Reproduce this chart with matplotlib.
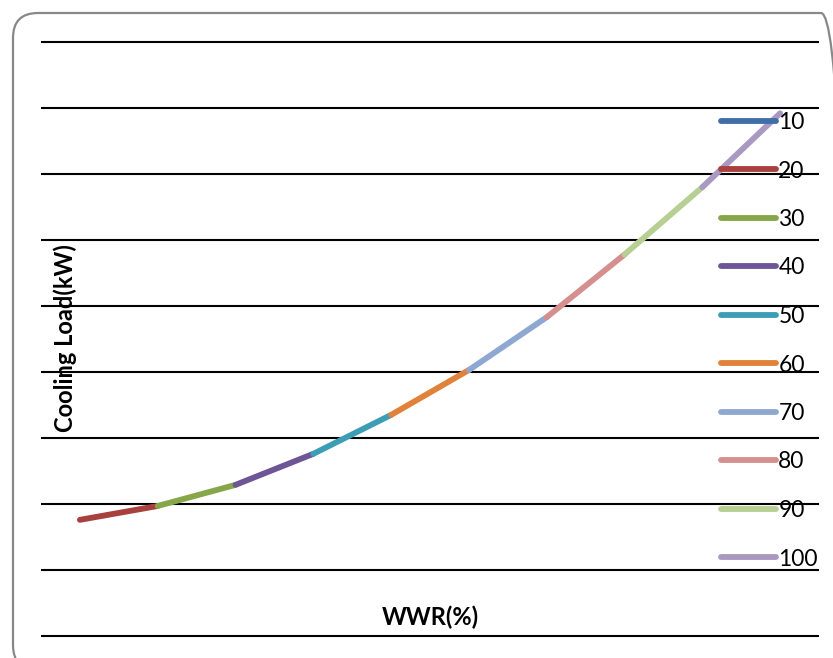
import matplotlib
matplotlib.use('Agg')
import matplotlib.pyplot as plt
from matplotlib.patches import FancyBboxPatch

# WWR steps and the cooling load read at each step
wwr_labels = ['10', '20', '30', '40', '50', '60', '70', '80', '90', '100']
cooling_load = [17.6, 19.7, 22.9, 27.6, 33.5, 40.3, 48.3, 57.8, 68.0, 79.2]
grid_levels = [0, 10, 20, 30, 40, 50, 60, 70, 80, 90]

colors = ['#3F6EA8', '#A8403D', '#86A64A', '#6E5595', '#3E9DB6',
          '#E0823A', '#8EA8D2', '#D48F8E', '#B7CF92', '#A898C2']

W, H = 833, 658
fig = plt.figure(figsize=(W / 100, H / 100), dpi=100)

# chart area border with rounded corners (pixel coordinates)
frame = FancyBboxPatch((13, -12), 833, 658 - 13 + 12,
                       boxstyle='round,pad=0,rounding_size=25',
                       transform=None, facecolor='none',
                       edgecolor='#888888', linewidth=1.6)
fig.patches.append(frame)

ax_left, ax_right = 41, 819
ax_top, ax_bot = 30, 648
ax = fig.add_axes([ax_left / W, (H - ax_bot) / H,
                   (ax_right - ax_left) / W, (ax_bot - ax_top) / H])
ax.set_facecolor('none')

px_per_unit = 66 / 10
ax.set_ylim(-(ax_bot - 636) / px_per_unit, 90 + (42 - ax_top) / px_per_unit)
ax.set_xlim(0.5, len(wwr_labels) + 0.5)

for level in grid_levels:
    ax.axhline(level, color='black', linewidth=1.5, zorder=1)

# each series spans from the previous WWR step to its own step
handles = []
for i, lab in enumerate(wwr_labels):
    lo = max(i - 1, 0)
    xs = list(range(lo + 1, i + 2))
    ys = cooling_load[lo:i + 1]
    ln, = ax.plot(xs, ys, color=colors[i], linewidth=4.2,
                  solid_capstyle='round', label=lab, zorder=3)
    handles.append(ln)

ax.set_xticks([])
ax.set_yticks([])
for s in ax.spines.values():
    s.set_visible(False)

leg = fig.legend(handles=handles, loc='upper left',
                 bbox_to_anchor=(721 / W, 1 - 112 / H),
                 frameon=False, borderpad=0, borderaxespad=0,
                 handlelength=2.4, handletextpad=0.1, labelspacing=1.2,
                 prop={'family': 'Lato', 'size': 16.5})

fig.text(65 / W, 1 - 338 / H, 'Cooling Load(kW)', rotation=90,
         ha='center', va='center', family='Lato', weight='bold', fontsize=17)
fig.text(430 / W, 1 - 617 / H, 'WWR(%)', ha='center', va='center',
         family='Lato', weight='bold', fontsize=17)

fig.savefig('out.png', dpi=100)
